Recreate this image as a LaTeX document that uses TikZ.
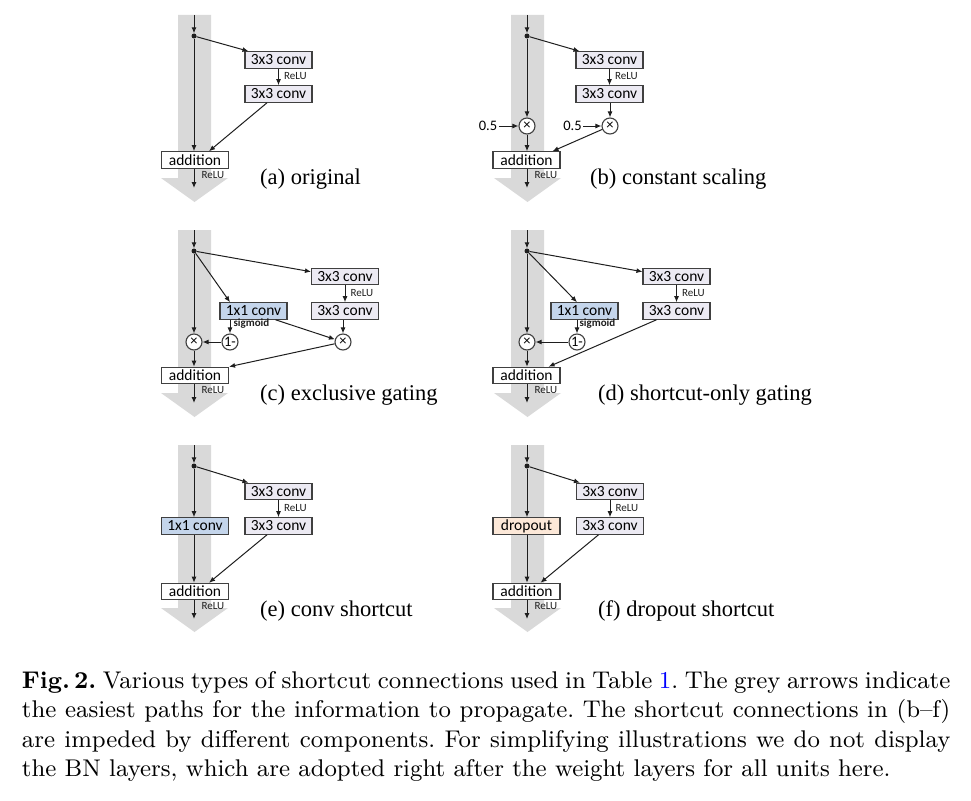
\documentclass[tikz,border=0pt]{standalone}
\usepackage{fontspec}
\usetikzlibrary{arrows.meta,calc}
\newfontfamily\boxfont{Carlito}
\newfontfamily\labfont{Liberation Serif}
\newfontfamily\capfont{lmroman9-regular.otf}[BoldFont=lmroman9-bold.otf,Ligatures=TeX]
\definecolor{bandgray}{RGB}{217,217,217}
\definecolor{convfill}{RGB}{236,234,243}
\definecolor{gatefill}{RGB}{196,213,235}
\definecolor{dropfill}{RGB}{252,232,216}
\definecolor{edgecol}{RGB}{64,64,64}
\definecolor{linecol}{RGB}{30,30,30}
\definecolor{linkblue}{RGB}{0,0,255}
\tikzset{
  band/.style={fill=bandgray, draw=none},
  box/.style={draw=edgecol, line width=1.1pt, minimum width=67pt, minimum height=16.5pt, inner sep=0pt, text=black, font=\boxfont\fontsize{15.5}{16}\selectfont},
  conv/.style={box, fill=convfill},
  gate/.style={box, fill=gatefill},
  drop/.style={box, fill=dropfill},
  addbox/.style={box, fill=white},
  opcirc/.style={circle, draw=edgecol, fill=white, line width=1.1pt, minimum size=16pt, inner sep=0pt, font=\boxfont\fontsize{14.5}{14.5}\selectfont},
  junction/.style={circle, fill=linecol, minimum size=5pt, inner sep=0pt},
  conn/.style={draw=linecol, line width=1pt, -{Latex[length=6pt,width=5pt]}},
  actlabel/.style={font=\boxfont\fontsize{11}{12}\selectfont, inner sep=0pt, text=linecol},
  siglabel/.style={font=\boxfont\bfseries\fontsize{11}{12}\selectfont, inner sep=0pt, text=linecol},
  scalelab/.style={font=\boxfont\fontsize{14.5}{15}\selectfont, inner sep=1.5pt},
  panelcap/.style={font=\labfont\fontsize{22.5}{24}\selectfont, anchor=base west, inner sep=0pt}
}
\newcommand{\drawband}{\fill[band] (-16,0) -- (17,0) -- (17,163) -- (34,163) -- (0.5,187) -- (-33,163) -- (-16,163) -- cycle;}
\begin{document}
\begin{tikzpicture}[x=1pt,y=-1pt]
\useasboundingbox (0,0) rectangle (971,800);

% ---------------- (a) original
\begin{scope}[shift={(194,15)}]
\drawband
\coordinate (a-top) at (0,0);
\node[junction] (a-dot) at (0,21) {};
\node[conv] (a-c1) at (84.5,45) {3x3 conv};
\node[conv] (a-c2) at (84.5,79) {3x3 conv};
\node[addbox] (a-add) at (1,145) {addition};
\coordinate (a-out) at (0,173);
\draw[conn] (a-top) -- (a-dot);
\draw[conn] (a-dot) -- ([xshift=4]a-c1.north west);
\draw[conn] (a-c1.south) -- node[actlabel, right=5pt, pos=0.45] (a-r1) {ReLU} (a-c2.north);
\draw[conn] (a-dot) -- (a-dot |- a-add.north);
\draw[conn] ([xshift=-11.5]a-c2.south) -- ([xshift=-20]a-add.north east);
\draw[conn] (a-dot |- a-add.south) -- node[actlabel, right=7pt, pos=0.3] (a-r2) {ReLU} (a-out);
\node[panelcap] (a-cap) at (66,169) {(a) original};
\end{scope}

% ---------------- (b) constant scaling
\begin{scope}[shift={(527,15)}]
\drawband
\coordinate (b-top) at (0,0);
\node[junction] (b-dot) at (0,21) {};
\node[conv] (b-c1) at (82.5,45) {3x3 conv};
\node[conv] (b-c2) at (82.5,79) {3x3 conv};
\node[opcirc] (b-m1) at (0,111) {×};
\node[opcirc] (b-m2) at (83,111) {×};
\node[scalelab] (b-h1) at (-39,111) {0.5};
\node[scalelab] (b-h2) at (45.5,111) {0.5};
\node[addbox] (b-add) at (-0.5,145) {addition};
\coordinate (b-out) at (0,173);
\draw[conn] (b-top) -- (b-dot);
\draw[conn] (b-dot) -- ([xshift=4]b-c1.north west);
\draw[conn] (b-c1.south) -- node[actlabel, right=5pt, pos=0.45] (b-r1) {ReLU} (b-c2.north);
\draw[conn] (b-c2.south -| b-m2) -- (b-m2);
\draw[conn] (b-dot) -- (b-m1);
\draw[conn] (b-h1) -- (b-m1);
\draw[conn] (b-h2) -- (b-m2);
\draw[conn] (b-m1) -- (b-m1 |- b-add.north);
\draw[conn] (b-m2) -- ([xshift=-8]b-add.north east);
\draw[conn] (b-m1 |- b-add.south) -- node[actlabel, right=7pt, pos=0.3] (b-r2) {ReLU} (b-out);
\node[panelcap] (b-cap) at (63,169) {(b) constant scaling};
\end{scope}

% ---------------- (c) exclusive gating
\begin{scope}[shift={(194,230)}]
\drawband
\coordinate (c-top) at (0,0);
\node[junction] (c-dot) at (0,21) {};
\node[conv] (c-c1) at (151,46.5) {3x3 conv};
\node[conv] (c-c2) at (151,81) {3x3 conv};
\node[gate] (c-g) at (59.5,81) {1x1 conv};
\node[opcirc] (c-one) at (36,112) {1-};
\node[opcirc] (c-m1) at (0,112) {×};
\node[opcirc] (c-m2) at (149,112) {×};
\node[addbox] (c-add) at (1,145.5) {addition};
\coordinate (c-out) at (0,173);
\draw[conn] (c-top) -- (c-dot);
\draw[conn] (c-dot) -- ([yshift=-4]c-c1.north west);
\draw[conn] (c-dot) -- (c-g.north -| c-one);
\draw[conn] (c-c1.south) -- node[actlabel, right=5pt, pos=0.45] (c-r1) {ReLU} (c-c2.north);
\draw[conn] (c-g.south -| c-one) -- node[siglabel, right=3pt, pos=0.3] (c-sg) {sigmoid} (c-one);
\draw[conn] ([xshift=-12]c-g.south east) -- (c-m2);
\draw[conn] (c-c2.south -| c-m2) -- (c-m2);
\draw[conn] (c-one) -- (c-m1);
\draw[conn] (c-dot) -- (c-m1);
\draw[conn] (c-m1) -- (c-m1 |- c-add.north);
\draw[conn] (c-m2) -- (c-add.north east);
\draw[conn] (c-m1 |- c-add.south) -- node[actlabel, right=7pt, pos=0.3] (c-r2) {ReLU} (c-out);
\node[panelcap] (c-cap) at (66,170) {(c) exclusive gating};
\end{scope}

% ---------------- (d) shortcut-only gating
\begin{scope}[shift={(527,230)}]
\drawband
\coordinate (d-top) at (0,0);
\node[junction] (d-dot) at (0,21) {};
\node[conv] (d-c1) at (149.5,46.5) {3x3 conv};
\node[conv] (d-c2) at (149.5,81) {3x3 conv};
\node[gate] (d-g) at (57.5,81) {1x1 conv};
\node[opcirc] (d-one) at (50,112) {1-};
\node[opcirc] (d-m1) at (0,112) {×};
\node[addbox] (d-add) at (-0.5,145.5) {addition};
\coordinate (d-out) at (0,173);
\draw[conn] (d-top) -- (d-dot);
\draw[conn] (d-dot) -- ([yshift=-4]d-c1.north west);
\draw[conn] (d-dot) -- (d-g.north -| d-one);
\draw[conn] (d-c1.south) -- node[actlabel, right=5pt, pos=0.45] (d-r1) {ReLU} (d-c2.north);
\draw[conn] (d-g.south -| d-one) -- node[siglabel, right=2pt, pos=0.3] (d-sg) {sigmoid} (d-one);
\draw[conn] (d-one) -- (d-m1);
\draw[conn] (d-dot) -- (d-m1);
\draw[conn] (d-m1) -- (d-m1 |- d-add.north);
\draw[conn] ([xshift=14]d-c2.south west) -- ([xshift=-12]d-add.north east);
\draw[conn] (d-m1 |- d-add.south) -- node[actlabel, right=7pt, pos=0.3] (d-r2) {ReLU} (d-out);
\node[panelcap] (d-cap) at (71,170.5) {(d) shortcut-only gating};
\end{scope}

% ---------------- (e) conv shortcut
\begin{scope}[shift={(194,445)}]
\drawband
\coordinate (e-top) at (0,0);
\node[junction] (e-dot) at (0,21) {};
\node[conv] (e-c1) at (84.5,46.5) {3x3 conv};
\node[conv] (e-c2) at (84.5,81) {3x3 conv};
\node[gate] (e-s) at (1,81) {1x1 conv};
\node[addbox] (e-add) at (1,146.5) {addition};
\coordinate (e-out) at (0,174);
\draw[conn] (e-top) -- (e-dot);
\draw[conn] (e-dot) -- ([xshift=4]e-c1.north west);
\draw[conn] (e-c1.south) -- node[actlabel, right=5pt, pos=0.45] (e-r1) {ReLU} (e-c2.north);
\draw[conn] (e-dot) -- (e-dot |- e-s.north);
\draw[conn] (e-dot |- e-s.south) -- (e-dot |- e-add.north);
\draw[conn] ([xshift=-11.5]e-c2.south) -- ([xshift=-20]e-add.north east);
\draw[conn] (e-dot |- e-add.south) -- node[actlabel, right=7pt, pos=0.3] (e-r2) {ReLU} (e-out);
\node[panelcap] (e-cap) at (66,171) {(e) conv shortcut};
\end{scope}

% ---------------- (f) dropout shortcut
\begin{scope}[shift={(527,445)}]
\drawband
\coordinate (f-top) at (0,0);
\node[junction] (f-dot) at (0,21) {};
\node[conv] (f-c1) at (83,46.5) {3x3 conv};
\node[conv] (f-c2) at (83,81) {3x3 conv};
\node[drop] (f-s) at (-0.5,81) {dropout};
\node[addbox] (f-add) at (-0.5,146.5) {addition};
\coordinate (f-out) at (0,174);
\draw[conn] (f-top) -- (f-dot);
\draw[conn] (f-dot) -- ([xshift=4]f-c1.north west);
\draw[conn] (f-c1.south) -- node[actlabel, right=5pt, pos=0.45] (f-r1) {ReLU} (f-c2.north);
\draw[conn] (f-dot) -- (f-dot |- f-s.north);
\draw[conn] (f-dot |- f-s.south) -- (f-dot |- f-add.north);
\draw[conn] ([xshift=-11.5]f-c2.south) -- ([xshift=-20]f-add.north east);
\draw[conn] (f-dot |- f-add.south) -- node[actlabel, right=7pt, pos=0.3] (f-r2) {ReLU} (f-out);
\node[panelcap] (f-cap) at (71,171) {(f) dropout shortcut};
\end{scope}

% ---------------- caption
\node[anchor=base west, inner sep=0pt, text width=928.5pt, align=justify,
      font=\capfont\fontsize{24.15}{29.5}\selectfont\frenchspacing] (caption) at (21.7,688)
{\textbf{Fig.\thinspace 2.} Various types of shortcut connections used in Table~\textcolor{linkblue}{1}. The grey arrows indicate\linebreak
the easiest paths for the information to propagate. The shortcut connections in (b--f)\linebreak
are impeded by different components. For simplifying illustrations we do not display\linebreak
the BN layers, which are adopted right after the weight layers for all units here.};
\end{tikzpicture}
\end{document}
